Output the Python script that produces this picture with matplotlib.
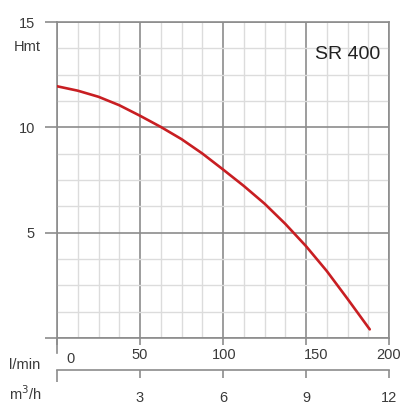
import matplotlib
matplotlib.use("Agg")
import matplotlib.pyplot as plt
from matplotlib.ticker import MultipleLocator
from matplotlib.lines import Line2D
from matplotlib.transforms import ScaledTranslation

# pump curve SR 400, read from the sheet
flow_lmin = [0, 12.5, 25, 37.5, 50, 62.5, 75, 87.5, 100, 112.5, 125, 137.5, 150, 162.5, 175, 188.4]
head_m = [11.95, 11.74, 11.45, 11.05, 10.55, 10.02, 9.44, 8.76, 8.0, 7.22, 6.38, 5.42, 4.36, 3.18, 1.86, 0.41]

lmin_ticks = [0, 50, 100, 150, 200]
m3h_ticks = [0, 3, 6, 9, 12]
head_ticks = [0, 5, 10, 15]

W, H = 403, 404
GRID_MAJ = "#8c8c8c"
GRID_MIN = "#dcdcdc"
TXT = "#3a3a3a"
plt.rcParams["font.family"] = ["Liberation Sans", "DejaVu Sans"]


def fx(x):
    return x / W


def fy(y):
    return 1 - y / H


fig = plt.figure(figsize=(W / 100, H / 100), dpi=100)
ax = fig.add_axes([fx(57), fy(338), fx(389) - fx(57), fy(22) - fy(338)])

ax.set_xlim(0, 200)
ax.set_ylim(0, 15)
ax.xaxis.set_major_locator(MultipleLocator(50))
ax.yaxis.set_major_locator(MultipleLocator(5))
ax.xaxis.set_minor_locator(MultipleLocator(12.5))
ax.yaxis.set_minor_locator(MultipleLocator(1.25))
ax.grid(True, which="minor", color=GRID_MIN, lw=1.0, zorder=0)
ax.grid(True, which="major", color=GRID_MAJ, lw=1.2, zorder=1)
ax.set_axisbelow(True)

for sp in ax.spines.values():
    sp.set_color(GRID_MAJ)
    sp.set_linewidth(1.2)

ax.set_yticks(head_ticks)
ax.set_yticklabels(["" if v == 0 else str(v) for v in head_ticks])
ax.tick_params(axis="y", which="major", length=8.6, width=1.2, color=GRID_MAJ,
               pad=7.2, labelsize=10.5, labelcolor=TXT)
ax.set_xticks(lmin_ticks)
ax.set_xticklabels([])
ax.tick_params(axis="x", which="major", length=5, width=1.2, color=GRID_MAJ)
ax.tick_params(which="minor", length=0)

# left border runs a bit further down than the other ticks
ax.add_line(Line2D([0, 0], [0, -15 / 316], transform=ax.get_xaxis_transform(),
                   color=GRID_MAJ, lw=1.2, clip_on=False))

ax.plot(flow_lmin, head_m, color="#c81e22", lw=1.9, zorder=3,
        solid_capstyle="round", solid_joinstyle="round")

# l/min labels (offsets in px as on the sheet)
lmin_dx = [13.7, 0, 1, 10, 0]
lmin_dy = [4, 0, 0, 0, 0]
for v, dx, dy in zip(lmin_ticks, lmin_dx, lmin_dy):
    tr = ax.get_xaxis_transform() + ScaledTranslation(dx / 100, -dy / 100, fig.dpi_scale_trans)
    ax.text(v, -17.3 / 316, str(v), transform=tr, ha="center", va="center",
            fontsize=10.5, color=TXT, clip_on=False)

fig.text(fx(25), fy(365), "l/min", ha="center", va="center", fontsize=10.5, color=TXT)
fig.text(fx(25), fy(394), "m$^3$/h", ha="center", va="center", fontsize=10.5, color=TXT)
fig.text(fx(27), fy(47), "Hmt", ha="center", va="center", fontsize=10.5, color=TXT)
ax.text(0.973, 0.898, "SR 400", transform=ax.transAxes, ha="right", va="center",
        fontsize=14, color="#222222")

# m3/h scale
ax2 = fig.add_axes([fx(57), fy(369.5), fx(389) - fx(57), 0.002])
ax2.set_xlim(0, 12)
ax2.set_ylim(0, 1)
ax2.patch.set_visible(False)
for name in ["top", "left", "right"]:
    ax2.spines[name].set_visible(False)
ax2.spines["bottom"].set_color(GRID_MAJ)
ax2.spines["bottom"].set_linewidth(1.2)
ax2.set_yticks([])
ax2.set_xticks(m3h_ticks[1:])
ax2.set_xticklabels([str(v) for v in m3h_ticks[1:]])
ax2.set_xticks(m3h_ticks[:1], minor=True)
ax2.tick_params(axis="x", which="major", length=5.8, width=1.2, color=GRID_MAJ,
                pad=9.5, labelsize=10.5, labelcolor=TXT)
ax2.tick_params(axis="x", which="minor", length=8.6, width=1.2, color=GRID_MAJ)

fig.savefig("out.png", dpi=100)
